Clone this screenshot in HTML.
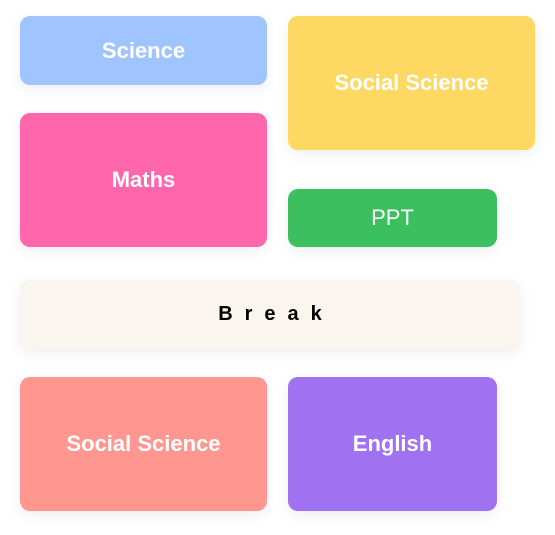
<!DOCTYPE html>
<html><head><meta charset="utf-8"><style>
body{margin:0;width:555px;height:535px;background:#fff;position:relative;font-family:"Liberation Sans",sans-serif;overflow:hidden}
.b{position:absolute;border-radius:10px;display:flex;align-items:center;justify-content:center;color:#fff;font-size:22px;font-weight:bold;box-shadow:0 4px 14px rgba(0,0,0,0.07)}
</style></head><body>
<div class="b" style="left:20px;top:16px;width:247px;height:69px;background:#a0c4ff">Science</div>
<div class="b" style="left:288px;top:16px;width:247px;height:134px;background:#fdd862">Social Science</div>
<div class="b" style="left:20px;top:113px;width:247px;height:134px;background:#ff66ab">Maths</div>
<div class="b" style="left:288px;top:189px;width:209px;height:58px;background:#3cbf5e;font-weight:normal">PPT</div>
<div class="b" style="left:20px;top:280px;width:500px;height:69px;background:#faf5ee;color:#000;letter-spacing:12px;font-size:20px;padding-left:12px;box-sizing:border-box">Break</div>
<div class="b" style="left:20px;top:377px;width:247px;height:134px;background:#ff968f">Social Science</div>
<div class="b" style="left:288px;top:377px;width:209px;height:134px;background:#a071f0">English</div>
</body></html>
